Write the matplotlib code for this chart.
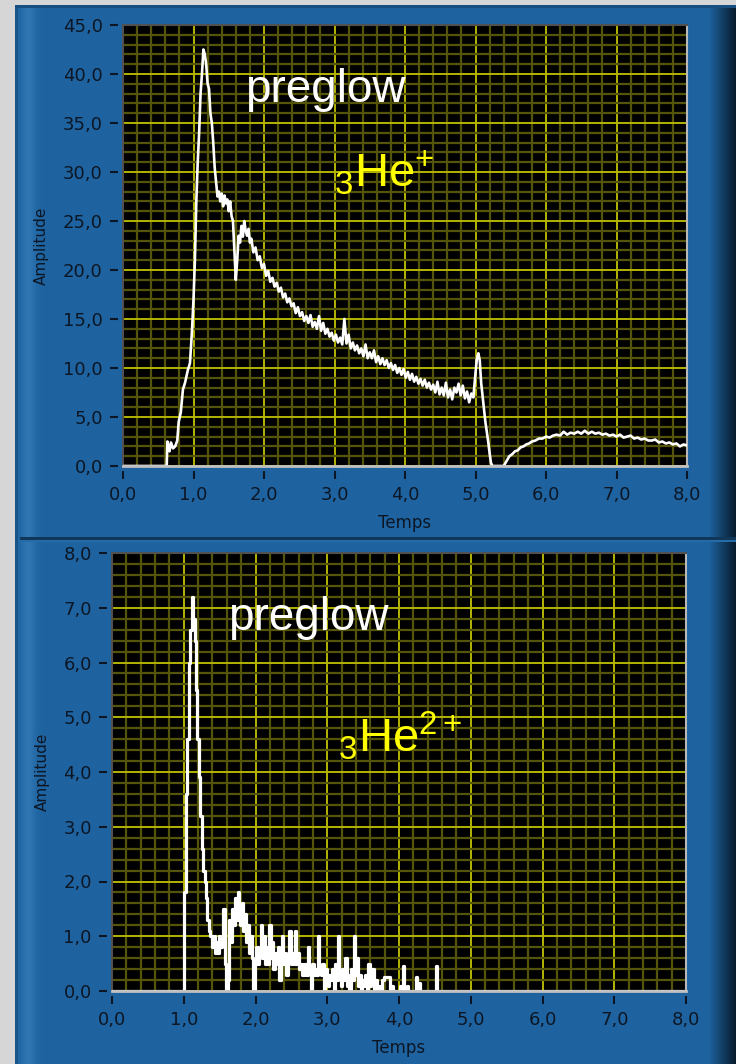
import numpy as np
import matplotlib
matplotlib.use("Agg")
import matplotlib.pyplot as plt
from matplotlib.ticker import MultipleLocator

plt.rcParams['mathtext.fontset'] = 'custom'
plt.rcParams['mathtext.rm'] = 'Liberation Sans'
plt.rcParams['mathtext.it'] = 'Liberation Sans'

# ---- data ----
# top graph: 3He+ signal
t1 = [0.0, 0.62, 0.63, 0.66, 0.68, 0.71, 0.74, 0.77, 0.79, 0.82, 0.85, 0.88, 0.92, 0.95, 0.98,
      1.00, 1.02, 1.04, 1.06, 1.08, 1.10, 1.12, 1.14, 1.16, 1.18, 1.20, 1.22, 1.24, 1.26, 1.28,
      1.30, 1.32, 1.34, 1.36, 1.38, 1.40, 1.42, 1.44, 1.46, 1.48, 1.50, 1.52, 1.54, 1.56, 1.58,
      1.60, 1.62, 1.64, 1.66, 1.68, 1.70, 1.72, 1.74, 1.76, 1.78, 1.80, 1.82, 1.85, 1.88, 1.91,
      1.94, 1.97, 2.00, 2.03, 2.06, 2.09, 2.12, 2.15, 2.18, 2.21, 2.24, 2.27, 2.30, 2.33, 2.36,
      2.39, 2.42, 2.45, 2.48, 2.51, 2.54, 2.57, 2.60, 2.63, 2.66, 2.69, 2.72, 2.75, 2.78, 2.81,
      2.84, 2.87, 2.90, 2.93, 2.96, 2.99, 3.02, 3.05, 3.08, 3.11, 3.14, 3.17, 3.20, 3.23, 3.26,
      3.29, 3.32, 3.35, 3.38, 3.41, 3.44, 3.47, 3.50, 3.53, 3.56, 3.59, 3.62, 3.65, 3.68, 3.71,
      3.74, 3.77, 3.80, 3.83, 3.86, 3.89, 3.92, 3.95, 3.98, 4.01, 4.04, 4.07, 4.10, 4.13, 4.16,
      4.19, 4.22, 4.25, 4.28, 4.31, 4.34, 4.37, 4.40, 4.43, 4.46, 4.49, 4.52, 4.55, 4.58, 4.61,
      4.64, 4.67, 4.70, 4.73, 4.76, 4.79, 4.82, 4.85, 4.88, 4.91, 4.94, 4.97, 5.00, 5.02, 5.04,
      5.06, 5.08, 5.10, 5.12, 5.14, 5.16, 5.18, 5.20, 5.22, 5.24, 5.40, 5.44, 5.48, 5.52, 5.56,
      5.60, 5.64, 5.68, 5.72, 5.76, 5.80, 5.85, 5.90, 5.95, 6.00, 6.05, 6.10, 6.15, 6.20, 6.25,
      6.30, 6.35, 6.40, 6.45, 6.50, 6.55, 6.60, 6.65, 6.70, 6.75, 6.80, 6.85, 6.90, 6.95, 7.00,
      7.05, 7.10, 7.15, 7.20, 7.25, 7.30, 7.35, 7.40, 7.45, 7.50, 7.55, 7.60, 7.65, 7.70, 7.75,
      7.80, 7.85, 7.90, 7.95, 8.00]
a1 = [0.0, 0.0, 2.5, 1.5, 2.4, 1.8, 2.0, 2.6, 4.5, 5.5, 7.8, 8.5, 9.8, 10.5, 14.0,
      17.0, 21.0, 27.0, 31.0, 34.0, 38.0, 40.0, 42.5, 42.0, 41.0, 39.0, 38.5, 36.0, 35.0, 33.0,
      30.5, 29.0, 27.5, 28.0, 27.0, 27.8, 26.5, 27.6, 26.8, 27.2, 26.0, 27.0, 25.5, 25.0, 22.0,
      19.0, 21.0, 23.5, 22.8, 24.5, 23.4, 25.0, 24.0, 23.5, 24.2, 22.8, 23.2, 21.8, 22.3, 21.0,
      21.4, 20.2, 20.6, 19.4, 19.9, 18.8, 19.2, 18.3, 18.7, 17.8, 18.2, 17.2, 17.6, 16.7, 17.1,
      16.3, 16.6, 15.6, 16.2, 15.3, 15.7, 14.8, 15.3, 14.6, 15.4, 14.2, 14.7, 14.0, 15.3, 13.8,
      14.6, 13.5, 14.0, 13.2, 13.6, 12.8, 13.4, 12.6, 13.1, 12.4, 15.0, 12.5, 13.4, 12.0, 12.6,
      11.8, 12.3, 11.5, 12.0, 11.2, 12.4, 11.0, 11.6, 11.0, 11.8, 10.6, 11.2, 10.4, 11.0, 10.3,
      10.8, 10.0, 10.5, 9.8, 10.3, 9.5, 10.0, 9.3, 9.9, 9.0, 9.6, 8.8, 9.4, 8.6, 9.1,
      8.4, 8.9, 8.2, 8.8, 8.0, 8.5, 7.8, 8.3, 7.5, 8.6, 7.3, 8.0, 7.2, 8.5, 7.0,
      7.8, 6.8, 8.0, 7.5, 8.4, 7.2, 8.2, 6.9, 7.6, 6.5, 7.4, 7.0, 9.5, 11.0, 11.5,
      10.8, 8.5, 7.2, 6.0, 4.5, 3.5, 2.5, 1.3, 0.3, 0.0, 0.0, 0.5, 1.0, 1.2, 1.5,
      1.6, 1.9, 2.0, 2.2, 2.3, 2.5, 2.6, 2.8, 2.8, 3.0, 2.9, 3.1, 3.2, 3.1, 3.5,
      3.2, 3.4, 3.3, 3.5, 3.3, 3.6, 3.3, 3.5, 3.3, 3.4, 3.2, 3.3, 3.1, 3.2, 3.0,
      3.2, 2.9, 3.0, 3.1, 2.8, 2.9, 2.7, 2.8, 2.6, 2.6, 2.7, 2.4, 2.5, 2.3, 2.4,
      2.2, 2.3, 2.0, 2.2, 2.1]

# bottom graph: 3He2+ signal, sampled every 0.02 starting at 0.98
t2_start = 0.98
a2 = [0.0, 0.0, 1.8, 3.6, 4.6, 6.0, 6.6, 7.2, 6.8, 6.4, 5.5, 4.6, 3.9, 3.2, 2.6, 2.2, 2.0, 1.7,
      1.3, 1.1, 1.0, 0.8, 1.0, 0.7, 0.9, 0.7, 1.0, 0.8, 0.9, 1.5, 0.5, 0.0, 0.2, 1.3, 0.9, 1.5,
      1.2, 1.7, 1.3, 1.8, 1.5, 1.2, 1.6, 1.1, 1.4, 0.9, 1.2, 0.7, 1.0, 0.6, 0.0, 0.5, 0.8, 0.5,
      0.7, 1.2, 0.6, 1.0, 0.5, 0.8, 0.5, 1.2, 0.6, 0.9, 0.4, 0.7, 0.5, 0.8, 0.2, 0.6, 1.0, 0.5,
      0.7, 0.3, 0.6, 1.1, 0.5, 0.7, 0.5, 1.1, 0.5, 0.7, 0.4, 0.5, 0.3, 0.5, 0.5, 0.3, 0.8, 0.4,
      0.0, 0.5, 0.3, 0.4, 0.3, 1.0, 0.4, 0.3, 0.5, 0.0, 0.4, 0.3, 0.1, 0.3, 0.2, 0.4, 0.0, 0.5,
      0.2, 1.0, 0.3, 0.1, 0.4, 0.2, 0.6, 0.1, 0.3, 0.0, 0.4, 0.2, 1.0, 0.3, 0.6, 0.1, 0.3, 0.0,
      0.2, 0.1, 0.3, 0.0, 0.5, 0.1, 0.2, 0.4, 0.0, 0.2, 0.1, 0.0, 0.1, 0.0, 0.2, 0.25, 0.25, 0.25,
      0.25, 0.0, 0.1, 0.0, 0.0, 0.0, 0.0, 0.0, 0.1, 0.0, 0.45, 0.0, 0.0, 0.1, 0.0, 0.0, 0.0, 0.0,
      0.0, 0.25, 0.0, 0.15, 0.0, 0.0, 0.0, 0.0, 0.0, 0.0, 0.0, 0.0, 0.0, 0.0, 0.0, 0.45, 0.0, 0.0]

xticks = [0, 1, 2, 3, 4, 5, 6, 7, 8]
xtick_labels = ['0,0', '1,0', '2,0', '3,0', '4,0', '5,0', '6,0', '7,0', '8,0']
yticks1 = [0, 5, 10, 15, 20, 25, 30, 35, 40, 45]
ytick_labels1 = ['0,0', '5,0', '10,0', '15,0', '20,0', '25,0', '30,0', '35,0', '40,0', '45,0']
yticks2 = [0, 1, 2, 3, 4, 5, 6, 7, 8]
ytick_labels2 = ['0,0', '1,0', '2,0', '3,0', '4,0', '5,0', '6,0', '7,0', '8,0']

t2 = t2_start + 0.02 * np.arange(len(a2))
t2 = np.concatenate([[0.0], t2, [8.0]])
a2 = np.concatenate([[0.0], a2, [0.0]])

# ---- figure / LabVIEW style background ----
W, H = 736, 1064
fig = plt.figure(figsize=(W / 100, H / 100), dpi=100)

blue = np.array([0.118, 0.392, 0.631])
img = np.ones((H, W, 3)) * 0.84
img[5:, 15:] = blue
# light bar along the left edge of the panel
for c in range(15, 42):
    k = np.exp(-((c - 28) / 7.0) ** 2) * 0.07
    img[5:, c] = np.clip(blue + k, 0, 1)
img[5:, 15:18] = blue * 0.85
# dark shading on the right edge
for c in range(708, W):
    f = (c - 708) / (W - 708)
    img[5:, c] = blue * (1 - 0.75 * f)
img[5:8, 15:] = blue * 0.8
# divider between the two graphs
img[537:540, 20:] = blue * 0.55
img[540:542, 20:] = np.clip(blue + 0.03, 0, 1)

bg = fig.add_axes([0, 0, 1, 1], zorder=-5)
bg.imshow(img, aspect='auto', interpolation='nearest')
bg.axis('off')

major_c = '#b4b400'
minor_c = '#55550a'
tick_c = '#0c1624'
lab_bg = '#135c97'


def style(ax, xmax, ymax, yt, ytl, ymin_step):
    ax.set_facecolor('black')
    ax.set_xlim(0, xmax)
    ax.set_ylim(0, ymax)
    ax.xaxis.set_minor_locator(MultipleLocator(0.2))
    ax.yaxis.set_minor_locator(MultipleLocator(ymin_step))
    ax.grid(which='minor', color=minor_c, lw=1.6, zorder=0)
    ax.grid(which='major', color=major_c, lw=1.4, zorder=0)
    ax.set_axisbelow(True)
    ax.set_xticks(xticks)
    ax.set_xticklabels(xtick_labels)
    ax.set_yticks(yt)
    ax.set_yticklabels(ytl)
    ax.tick_params(which='minor', length=0)
    ax.tick_params(which='major', length=6, width=1.5, color=tick_c,
                   labelcolor=tick_c, labelsize=13, pad=5)
    for lbl in ax.get_yticklabels():
        lbl.set_bbox(dict(facecolor=lab_bg, edgecolor='none', pad=1.5))
    ax.spines['left'].set_position(('outward', 3.5))
    ax.spines['bottom'].set_position(('outward', 3.5))
    ax.spines['left'].set_visible(False)
    ax.spines['bottom'].set_visible(False)
    ax.spines['top'].set_color('#505050')
    ax.spines['top'].set_linewidth(1.5)
    ax.spines['right'].set_color('#b8b8b8')
    ax.spines['right'].set_linewidth(1.5)
    ax.plot([0, 0], [0, 1], transform=ax.transAxes, color='#505050', lw=1.5, clip_on=False)
    ax.plot([0, 1], [0, 0], transform=ax.transAxes, color='#c0c0c0', lw=2, clip_on=False, zorder=5)
    ax.set_xlabel('Temps', fontsize=12, color=tick_c, labelpad=7)
    ax.set_ylabel('Amplitude', fontsize=11, color=tick_c, labelpad=10)


ax1 = fig.add_axes([123 / W, 1 - 466 / H, 564 / W, 441 / H])
style(ax1, 8, 45, yticks1, ytick_labels1, 1.0)
ax1.plot(t1, a1, color='white', lw=1.9, zorder=3)
ax1.text(1.73, 37.1, 'preglow', color='white', fontsize=33, family='Liberation Sans',
         va='baseline', ha='left')
ax1.text(3.0, 27.4, r'$_{3}\mathrm{He}^{+}$', color='#ffff00', fontsize=34,
         va='bottom', ha='left')

ax2 = fig.add_axes([112 / W, 1 - 991 / H, 574 / W, 438 / H])
style(ax2, 8, 8, yticks2, ytick_labels2, 0.2)
ax2.plot(t2, a2, color='white', lw=2.3, zorder=3, drawstyle='steps-mid')
ax2.text(1.62, 6.59, 'preglow', color='white', fontsize=33, family='Liberation Sans',
         va='baseline', ha='left')
ax2.text(3.15, 4.18, r'$_{3}\mathrm{He}^{2+}$', color='#ffff00', fontsize=34,
         va='bottom', ha='left')

fig.savefig('out.png', dpi=100)
